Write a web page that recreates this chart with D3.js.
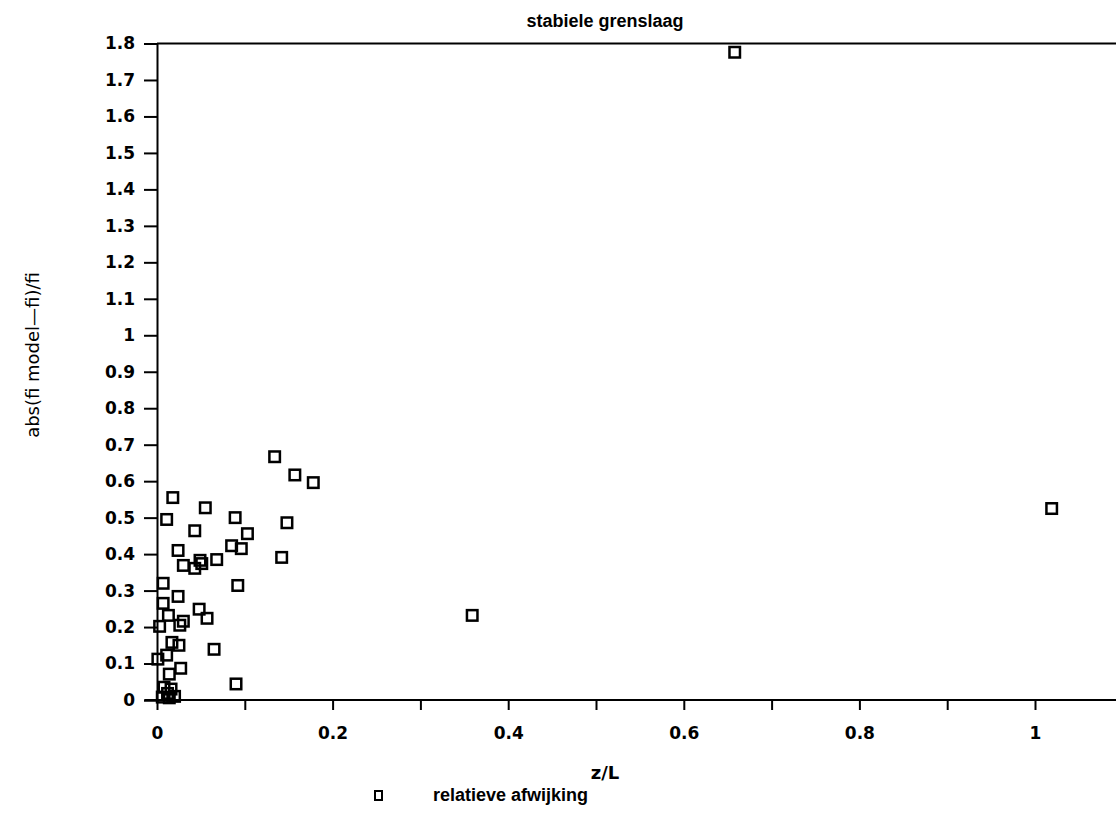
<!DOCTYPE html>
<html>
<head>
<meta charset="utf-8">
<script src="https://cdn.jsdelivr.net/npm/d3@7"></script>
<style>
  html, body { margin: 0; padding: 0; background: #fff; }
  svg { display: block; }
  text { fill: #000; }
</style>
</head>
<body>
<svg id="chart" width="1116" height="815"></svg>
<script>
// ---- data ----
const zL = [0.658, 1.019, 0.359,
  0.134, 0.157, 0.178, 0.018, 0.055, 0.011, 0.089, 0.148, 0.043, 0.103,
  0.024, 0.085, 0.096, 0.142, 0.030, 0.043, 0.049, 0.051, 0.068,
  0.007, 0.092, 0.024, 0.007, 0.048, 0.013, 0.057, 0.030, 0.026, 0.003,
  0.017, 0.025, 0.065, 0.011, 0.001, 0.027, 0.014, 0.090,
  0.008, 0.016, 0.006, 0.014, 0.020, 0.012];
const relDev = [1.776, 0.525, 0.232,
  0.667, 0.617, 0.596, 0.555, 0.527, 0.495, 0.500, 0.486, 0.464, 0.456,
  0.410, 0.423, 0.415, 0.391, 0.369, 0.361, 0.383, 0.374, 0.385,
  0.320, 0.314, 0.284, 0.265, 0.249, 0.232, 0.224, 0.216, 0.205, 0.202,
  0.158, 0.150, 0.139, 0.123, 0.112, 0.087, 0.071, 0.044,
  0.035, 0.030, 0.008, 0.006, 0.010, 0.018];
const xTicks = [0, 0.1, 0.2, 0.3, 0.4, 0.5, 0.6, 0.7, 0.8, 0.9, 1.0, 1.1];
const xTickLabels = ["0", "", "0.2", "", "0.4", "", "0.6", "", "0.8", "", "1", ""];
const yTicks = [0, 0.1, 0.2, 0.3, 0.4, 0.5, 0.6, 0.7, 0.8, 0.9, 1.0, 1.1, 1.2, 1.3, 1.4, 1.5, 1.6, 1.7, 1.8];
const yTickLabels = ["0", "0.1", "0.2", "0.3", "0.4", "0.5", "0.6", "0.7", "0.8", "0.9", "1",
  "1.1", "1.2", "1.3", "1.4", "1.5", "1.6", "1.7", "1.8"];
const title = "stabiele grenslaag";
const xLabel = "z/L";
const yLabel = "abs(fi model\u2014fi)/fi";
const legendLabel = "relatieve afwijking";

const points = zL.map((v, i) => ({ x: v, y: relDev[i] }));

// ---- layout ----
const svg = d3.select("#chart");
const tickFont = "'DejaVu Sans', Verdana, sans-serif";
const textFont = "'Liberation Sans', Arial, sans-serif";
const x0 = 157, xPer = 878;
const x = d3.scaleLinear().domain([0, 1.1]).range([x0, x0 + 1.1 * xPer]);
const y = d3.scaleLinear().domain([0, 1.8]).range([700, 43.5]);

// y axis
const yAxis = d3.axisLeft(y).tickValues(yTicks)
  .tickFormat((d, i) => yTickLabels[i]).tickSize(13).tickPadding(9);
const gy = svg.append("g").attr("transform", `translate(${x0},0)`).call(yAxis);
gy.attr("font-size", null).attr("font-family", null);
gy.select(".domain").attr("stroke", "#000").attr("stroke-width", 2);
gy.selectAll(".tick line").attr("stroke", "#000").attr("stroke-width", 2);
gy.selectAll(".tick text").style("font-size", "17px").style("font-weight", "bold")
  .attr("fill", "#000").style("font-family", tickFont);

// x axis
const xAxis = d3.axisBottom(x).tickValues(xTicks)
  .tickFormat((d, i) => xTickLabels[i]).tickSize(10).tickSizeOuter(0).tickPadding(17);
const gx = svg.append("g").attr("transform", `translate(0,${y(0)})`).call(xAxis);
gx.attr("font-size", null).attr("font-family", null);
gx.select(".domain").attr("stroke", "#000").attr("stroke-width", 2)
  .attr("d", `M${x0 - 12},0H${x(1.1)}`);
gx.selectAll(".tick line").attr("stroke", "#000").attr("stroke-width", 2);
gx.selectAll(".tick text").style("font-size", "17px").style("font-weight", "bold")
  .attr("fill", "#000").style("font-family", tickFont);

// top frame line
svg.append("line")
  .attr("x1", x0).attr("x2", x(1.1))
  .attr("y1", y(1.8)).attr("y2", y(1.8))
  .attr("stroke", "#000").attr("stroke-width", 2);

// points
const s = 10.5;
svg.append("g").selectAll("rect").data(points).join("rect")
  .attr("x", d => x(d.x) - s / 2)
  .attr("y", d => y(d.y) - s / 2)
  .attr("width", s).attr("height", s)
  .attr("fill", "none").attr("stroke", "#000").attr("stroke-width", 2.5);

// title
svg.append("text").attr("x", 605).attr("y", 27).attr("text-anchor", "middle")
  .style("font-family", textFont).style("font-size", "18px").style("font-weight", "bold")
  .text(title);

// x label
svg.append("text").attr("x", 605).attr("y", 779).attr("text-anchor", "middle")
  .style("font-family", tickFont).style("font-size", "18px").style("font-weight", "bold")
  .text(xLabel);

// y label
svg.append("text").attr("transform", "translate(39,355) rotate(-90)")
  .attr("text-anchor", "middle")
  .style("font-family", tickFont).style("font-size", "18px")
  .text(yLabel);

// legend
svg.append("rect").attr("x", 375).attr("y", 791).attr("width", 7).attr("height", 9)
  .attr("fill", "none").attr("stroke", "#000").attr("stroke-width", 2);
svg.append("text").attr("x", 433).attr("y", 801)
  .style("font-family", textFont).style("font-size", "18px").style("font-weight", "bold")
  .text(legendLabel);
</script>
</body>
</html>
